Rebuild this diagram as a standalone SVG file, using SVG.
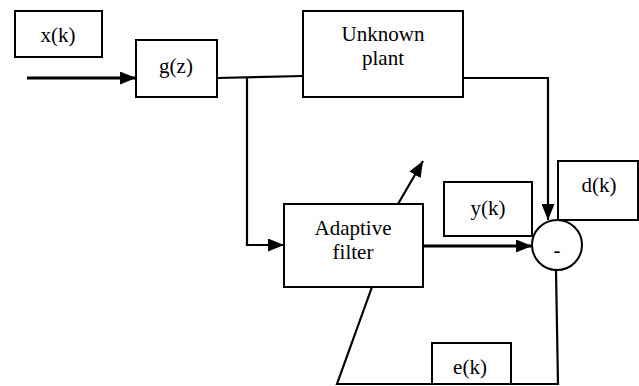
<svg xmlns="http://www.w3.org/2000/svg" width="639" height="386" viewBox="0 0 639 386">
<defs>
<marker id="ah" markerUnits="userSpaceOnUse" markerWidth="17" markerHeight="13" refX="16" refY="6.5" orient="auto">
<path d="M0,0 L16,6.5 L0,13 z" fill="#000"/>
</marker>
<style>
.box{fill:#fff;stroke:#000;stroke-width:2}
text{font-family:"Times New Roman","Liberation Serif","DejaVu Serif",serif;font-size:21px;fill:#000;text-anchor:middle}
.c{fill:none;stroke:#000;stroke-width:2.2}
.thick{stroke-width:3}
</style>
</defs>
<rect width="639" height="386" fill="#fff"/>
<g id="connectors">
<line class="c thick" x1="27" y1="78" x2="136" y2="78" marker-end="url(#ah)"/>
<polyline class="c" points="217,78 303,76"/>
<polyline class="c" points="247,78 247,245 284,245" marker-end="url(#ah)"/>
<polyline class="c" points="463,78 548,78 548,220" marker-end="url(#ah)"/>
<line class="c thick" x1="423" y1="246" x2="532" y2="246" marker-end="url(#ah)"/>
<line class="c" x1="398" y1="204" x2="423" y2="161" marker-end="url(#ah)"/>
<polyline class="c" points="372,287 337,384 558,384 556,271"/>
</g>
<g id="xk"><rect class="box" x="15" y="11" width="87" height="46"/><text x="58" y="42">x(k)</text></g>
<g id="gz"><rect class="box" x="136" y="40" width="81" height="57"/><text x="176" y="73">g(z)</text></g>
<g id="plant"><rect class="box" x="303" y="11" width="160" height="86"/><text x="383" y="41">Unknown</text><text x="383" y="65">plant</text></g>
<g id="filter"><rect class="box" x="284" y="204" width="139" height="83"/><text x="353" y="235">Adaptive</text><text x="353" y="259">filter</text></g>
<g id="yk"><rect class="box" x="444" y="182" width="88" height="54"/><text x="488" y="215">y(k)</text></g>
<g id="dk"><rect class="box" x="558" y="161" width="80" height="59"/><text x="599" y="192">d(k)</text></g>
<g id="sum"><circle class="box" cx="557" cy="245" r="25"/><text x="557" y="257">-</text></g>
<g id="ek"><rect class="box" x="432" y="343" width="79" height="41"/><text x="470" y="374">e(k)</text></g>
</svg>
